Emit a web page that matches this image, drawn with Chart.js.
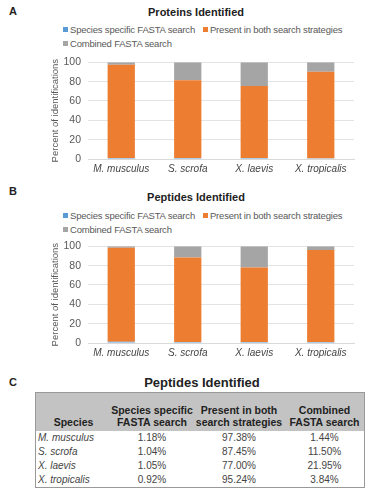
<!DOCTYPE html>
<html><head><meta charset="utf-8">
<script src="https://cdn.jsdelivr.net/npm/chart.js@4/dist/chart.umd.min.js"></script>
<style>
html,body{margin:0;padding:0;background:#fff;}
body{width:380px;height:500px;position:relative;overflow:hidden;font-family:"Liberation Sans",Arial,sans-serif;}
.abs{position:absolute;}
.letter{font-weight:bold;font-size:11px;color:#222;}
.title{font-weight:bold;font-size:11px;color:#222;width:380px;text-align:center;left:12px;}
.leg{font-size:9.5px;color:#595959;white-space:nowrap;letter-spacing:-0.2px;}
.leg span.box{display:inline-block;width:5px;height:5px;margin-right:2px;vertical-align:1px;}
.cw{position:absolute;left:0;width:380px;}
table{border-collapse:collapse;font-size:10px;color:#444;}
</style></head><body>
<div class="abs letter" style="left:9px;top:5px">A</div>
<div class="abs title" style="top:6px;left:6px">Proteins Identified</div>
<div id="legA" class="abs leg" style="left:63px;top:24px"></div>
<div class="cw" style="top:49px;height:130px"><canvas id="cA"></canvas></div>

<div class="abs letter" style="left:9px;top:185px">B</div>
<div class="abs title" style="top:191px;left:6px">Peptides Identified</div>
<div id="legB" class="abs leg" style="left:63px;top:210px"></div>
<div class="cw" style="top:233px;height:130px"><canvas id="cB"></canvas></div>

<div class="abs letter" style="left:9px;top:376px">C</div>
<div class="abs" style="top:375px;left:0;width:404px;text-align:center;font-weight:bold;font-size:13px;color:#222">Peptides Identified</div>
<div id="tbl" class="abs" style="left:35px;top:392px"></div>

<script>
const categories = ["M. musculus","S. scrofa","X. laevis","X. tropicalis"];
const seriesNames = ["Species specific FASTA search","Present in both search strategies","Combined FASTA search"];
const seriesColors = ["#5B9BD5","#ED7D31","#A5A5A5"];
// Panel A: proteins
const proteinSpecific = [1.0, 1.0, 1.0, 0.9];
const proteinBoth = [96.5, 80.5, 74.5, 89.4];
const proteinCombined = [2.5, 18.5, 24.5, 9.7];
// Panel B/C: peptides (from table)
const peptideSpecific = [1.18, 1.04, 1.05, 0.92];
const peptideBoth = [97.38, 87.45, 77.00, 95.24];
const peptideCombined = [1.44, 11.50, 21.95, 3.84];
const yTicks = [0, 20, 40, 60, 80, 100];
const tableHeaders = ["Species","Species specific<br>FASTA search","Present in both<br>search strategies","Combined<br>FASTA search"];

function legend(id){
  const el=document.getElementById(id);
  let h='<div style="height:14px"><span class="box" style="background:'+seriesColors[0]+'"></span>'+seriesNames[0]+
  '<span style="display:inline-block;width:8px"></span><span class="box" style="background:'+seriesColors[1]+'"></span>'+seriesNames[1]+'</div>'+
  '<div><span class="box" style="background:'+seriesColors[2]+'"></span>'+seriesNames[2]+'</div>';
  el.innerHTML=h;
}
legend('legA');legend('legB');

function makeChart(id, s, b, c){
  const data=[s,b,c];
  new Chart(document.getElementById(id),{
    type:'bar',
    data:{labels:categories,datasets:seriesNames.map((n,i)=>({label:n,data:data[i],backgroundColor:seriesColors[i],categoryPercentage:1,barPercentage:0.41}))},
    options:{
      responsive:true,maintainAspectRatio:false,animation:false,
      layout:{padding:{left:50,right:26,top:11,bottom:0}},
      plugins:{legend:{display:false},tooltip:{enabled:false}},
      scales:{
        x:{stacked:true,grid:{display:false,drawTicks:false},border:{color:'#d9d9d9'},
           ticks:{color:'#444',font:{family:'Liberation Sans',size:10,style:'italic'},padding:4}},
        y:{stacked:true,min:0,max:100,afterFit:(sc)=>{sc.width=38;},
           afterBuildTicks:(sc)=>{sc.ticks=yTicks.map(v=>({value:v}));},
           grid:{color:'#e3e3e3',drawTicks:false},border:{display:false},
           ticks:{color:'#595959',font:{family:'Liberation Sans',size:10.5},padding:7},
           title:{display:true,text:'Percent of identifications',color:'#595959',font:{family:'Liberation Sans',size:9.5},padding:{top:0,bottom:0}}}
      }
    }
  });
}
makeChart('cA',proteinSpecific,proteinBoth,proteinCombined);
makeChart('cB',peptideSpecific,peptideBoth,peptideCombined);

// Table
(function(){
  const widths=[75,82,92,79];
  let h='<table style="border:1px solid #999;width:328px;table-layout:fixed">';
  h+='<tr style="background:#c3c3c3;height:38px">';
  tableHeaders.forEach((t,i)=>{h+='<th style="width:'+widths[i]+'px;vertical-align:bottom;font-weight:bold;font-size:10.5px;line-height:12px;padding:0 0 3px 0;color:#222;text-align:center">'+t+'</th>';});
  h+='</tr>';
  const fmt=v=>v.toFixed(2)+'%';
  categories.forEach((c,i)=>{
    h+='<tr style="height:14px"><td style="font-style:italic;padding:0 0 0 2px;line-height:14px">'+c+'</td>'+
    '<td style="text-align:center;padding:0">'+fmt(peptideSpecific[i])+'</td>'+
    '<td style="text-align:center;padding:0">'+fmt(peptideBoth[i])+'</td>'+
    '<td style="text-align:center;padding:0">'+fmt(peptideCombined[i])+'</td></tr>';
  });
  h+='</table>';
  document.getElementById('tbl').innerHTML=h;
})();
</script>
</body></html>
